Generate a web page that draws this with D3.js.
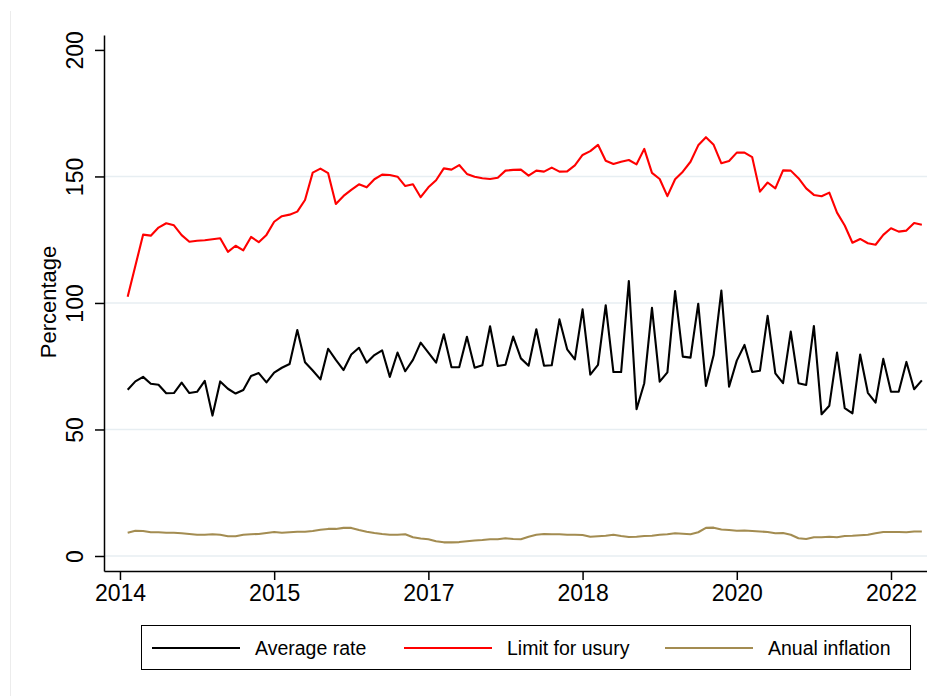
<!DOCTYPE html>
<html>
<head>
<meta charset="utf-8">
<script src="https://cdn.jsdelivr.net/npm/d3@7"></script>
<style>
  html, body { margin: 0; padding: 0; background: #fff; }
  svg { display: block; font-family: "Liberation Sans", Arial, sans-serif; }
</style>
</head>
<body>
<svg id="chart" width="927" height="696"></svg>
<script>
// ---- DATA (monthly observations, index 0 = first month) ----
const averageRate = [
  65.7, 69.0, 70.8, 68.1, 67.7, 64.3, 64.4, 68.5, 64.4, 64.9,
  69.2, 55.5, 69.0, 66.1, 64.2, 65.6, 71.1, 72.3, 68.6, 72.5,
  74.4, 75.9, 89.3, 76.6, 73.3, 69.8, 81.9, 77.5, 73.5, 79.6,
  82.3, 76.4, 79.4, 81.3, 70.8, 80.4, 73.0, 77.5, 84.3, 80.4,
  76.4, 87.6, 74.6, 74.6, 86.6, 74.4, 75.4, 90.8, 75.1, 75.6,
  86.7, 78.1, 75.2, 89.6, 75.2, 75.4, 93.5, 81.7, 77.7, 97.5,
  71.7, 75.5, 99.1, 72.7, 72.7, 108.7, 58.0, 68.3, 98.1, 68.9,
  72.6, 104.7, 78.8, 78.4, 99.7, 67.2, 79.4, 104.9, 66.9, 77.2,
  83.4, 72.7, 73.2, 94.9, 72.2, 68.3, 88.7, 68.3, 67.6, 90.9,
  56.0, 59.4, 80.4, 58.4, 56.4, 79.6, 64.5, 60.6, 77.9, 64.9,
  64.9, 76.7, 65.9, 69.4
];
const usuryLimit = [
  102.5, 114.7, 127.0, 126.6, 129.8, 131.5, 130.7, 126.8, 124.2, 124.6,
  124.8, 125.2, 125.6, 120.2, 122.6, 120.8, 126.1, 124.0, 126.9, 132.1,
  134.3, 134.9, 136.1, 140.7, 151.5, 153.1, 151.3, 139.1, 142.3, 144.7,
  146.9, 145.7, 148.9, 150.7, 150.6, 149.9, 146.2, 146.9, 141.8, 145.7,
  148.5, 153.2, 152.7, 154.5, 151.0, 149.9, 149.3, 149.0, 149.5, 152.3,
  152.6, 152.7, 150.3, 152.3, 151.9, 153.5, 151.9, 152.0, 154.4, 158.5,
  160.0, 162.5, 156.2, 154.9, 155.8, 156.5, 154.8, 160.9, 151.4, 149.0,
  142.2, 148.9, 151.9, 155.8, 162.3, 165.5, 162.5, 155.2, 156.1, 159.4,
  159.4, 157.6, 144.0, 147.6, 145.3, 152.4, 152.3, 149.3, 145.3, 142.7,
  142.2, 143.6, 135.7, 130.6, 123.8, 125.3, 123.6, 123.0, 126.9, 129.5,
  128.2, 128.6, 131.6, 130.9
];
const annualInflation = [
  9.2, 10.0, 9.9, 9.4, 9.4, 9.2, 9.2, 9.0, 8.7, 8.4,
  8.4, 8.6, 8.4, 7.8, 7.8, 8.4, 8.6, 8.7, 9.1, 9.5,
  9.2, 9.4, 9.6, 9.6, 9.9, 10.4, 10.7, 10.7, 11.1, 11.1,
  10.3, 9.6, 9.1, 8.7, 8.4, 8.4, 8.6, 7.4, 6.9, 6.6,
  5.8, 5.4, 5.4, 5.5, 5.8, 6.1, 6.3, 6.6, 6.6, 7.0,
  6.7, 6.6, 7.6, 8.4, 8.7, 8.6, 8.6, 8.4, 8.4, 8.3,
  7.6, 7.8, 8.0, 8.4, 7.9, 7.5, 7.6, 7.9, 8.0, 8.4,
  8.6, 9.0, 8.8, 8.6, 9.4, 11.1, 11.2, 10.5, 10.3, 10.0,
  10.1, 9.9, 9.7, 9.5, 9.0, 9.1, 8.4, 7.0, 6.7, 7.4,
  7.4, 7.6, 7.4, 7.9, 8.0, 8.2, 8.4, 9.0, 9.5, 9.5,
  9.5, 9.4, 9.7, 9.7
];
const xTickMonths = [-1, 19, 39, 59, 79, 99];
const xTickLabels = ["2014", "2015", "2017", "2018", "2020", "2022"];
const yTicks = [0, 50, 100, 150, 200];
const yGrid = [0, 50, 100, 150];
const seriesNames = ["Average rate", "Limit for usury", "Anual inflation"];
const seriesColors = ["#000000", "#ff0000", "#a38c51"];

// ---- CHART ----
const svg = d3.select("#chart");

// faint outer frame line at left
svg.append("line")
  .attr("x1", 10.5).attr("x2", 10.5).attr("y1", 11).attr("y2", 696)
  .attr("stroke", "#ececec").attr("stroke-width", 1);

const x = d3.scaleLinear().domain([-3.07, 103.67]).range([104, 927]);
const y = d3.scaleLinear().domain([-5.93, 205.9]).range([571, 35]);

// gridlines
svg.append("g").selectAll("line").data(yGrid).join("line")
  .attr("x1", 105).attr("x2", 927)
  .attr("y1", d => y(d)).attr("y2", d => y(d))
  .attr("stroke", "#e7eef2").attr("stroke-width", 1.6);

// series lines
const seriesData = [averageRate, usuryLimit, annualInflation];
const line = d3.line().x((d, i) => x(i)).y(d => y(d));
seriesData.forEach((s, k) => {
  svg.append("path")
    .datum(s)
    .attr("fill", "none")
    .attr("stroke", seriesColors[k])
    .attr("stroke-width", 2.1)
    .attr("stroke-linejoin", "round")
    .attr("d", line);
});

// y axis
const yAxis = svg.append("g")
  .attr("transform", "translate(104,0)")
  .call(d3.axisLeft(y).tickValues(yTicks).tickSize(9).tickSizeOuter(0));
yAxis.select(".domain").attr("stroke", "#000").attr("stroke-width", 1.5);
yAxis.selectAll(".tick line").attr("stroke", "#000").attr("stroke-width", 1.5);
yAxis.selectAll(".tick text")
  .attr("font-size", 23)
  .attr("font-family", "Liberation Sans, Arial, sans-serif")
  .attr("fill", "#000")
  .attr("text-anchor", "middle")
  .attr("transform", "rotate(-90)")
  .attr("x", 0).attr("y", -21).attr("dy", 0);

// x axis
const xAxis = svg.append("g")
  .attr("transform", "translate(0,571)")
  .call(d3.axisBottom(x).tickValues(xTickMonths)
    .tickFormat((d, i) => xTickLabels[i]).tickSize(9).tickSizeOuter(0).tickPadding(5));
xAxis.select(".domain").attr("stroke", "#000").attr("stroke-width", 1.5);
xAxis.selectAll(".tick line").attr("stroke", "#000").attr("stroke-width", 1.5);
xAxis.selectAll(".tick text")
  .attr("font-size", 23)
  .attr("font-family", "Liberation Sans, Arial, sans-serif")
  .attr("fill", "#000");

// y axis title
svg.append("text")
  .attr("transform", "translate(56,302) rotate(-90)")
  .attr("text-anchor", "middle")
  .attr("font-size", 22)
  .attr("fill", "#000")
  .text("Percentage");

// legend
const lg = svg.append("g");
lg.append("rect")
  .attr("x", 141.5).attr("y", 625.5).attr("width", 769).attr("height", 44)
  .attr("fill", "#fff").attr("stroke", "#000").attr("stroke-width", 1);
const legendX = [152, 404, 665];
seriesNames.forEach((name, k) => {
  lg.append("line")
    .attr("x1", legendX[k]).attr("x2", legendX[k] + 88)
    .attr("y1", 648).attr("y2", 648)
    .attr("stroke", seriesColors[k]).attr("stroke-width", 2);
  lg.append("text")
    .attr("x", legendX[k] + 103).attr("y", 654.5)
    .attr("font-size", 19.5)
    .attr("fill", "#000")
    .text(name);
});
</script>
</body>
</html>
